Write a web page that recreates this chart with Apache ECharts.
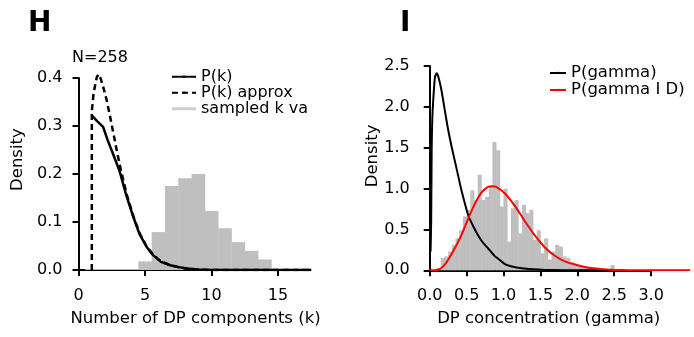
<!DOCTYPE html>
<html>
<head>
<meta charset="utf-8">
<script src="https://cdn.jsdelivr.net/npm/echarts@6/dist/echarts.min.js"></script>
<style>
  html, body { margin: 0; padding: 0; background: #fff; }
  #chart { width: 694px; height: 337px; }
</style>
</head>
<body>
<div id="chart"></div>
<script>
// Panel H: number of DP components
const kBinEdges = [0.5, 1.5, 2.5, 3.5, 4.5, 5.5, 6.5, 7.5, 8.5, 9.5, 10.5, 11.5, 12.5, 13.5, 14.5];
const kBinDensity = [0.002, 0.002, 0.002, 0.002, 0.018, 0.079, 0.175, 0.191, 0.200, 0.123, 0.087, 0.058, 0.040, 0.022];

const kSolid = [1, 1.4, 1.85, 2.2, 2.65, 3.1, 3.6, 4.1, 4.6, 5.1, 5.6, 6.2, 6.9, 7.5, 8.2, 9, 10, 17.5];
const pkSolid = [0.322, 0.31, 0.298, 0.27, 0.238, 0.205, 0.155, 0.112, 0.074, 0.049, 0.031, 0.017, 0.010, 0.006, 0.003, 0.001, 0, 0];

const kApprox = [1, 1, 1.12, 1.25, 1.38, 1.5, 1.65, 1.85, 2.1, 2.35, 2.6, 2.85, 3.1, 3.6, 4.1, 4.6, 5.1, 5.6, 6.2, 6.9, 8, 9, 10, 17.5];
const pkApprox = [0, 0.33, 0.365, 0.385, 0.402, 0.408, 0.4, 0.382, 0.356, 0.323, 0.288, 0.253, 0.219, 0.16, 0.114, 0.076, 0.05, 0.032, 0.018, 0.01, 0.003, 0.001, 0, 0];

// Panel I: DP concentration
const gBinEdges = [0.10, 0.15, 0.20, 0.25, 0.30, 0.35, 0.40, 0.45, 0.50, 0.55, 0.60, 0.65, 0.70, 0.75, 0.80, 0.85, 0.90, 0.95, 1.00,
  1.05, 1.10, 1.15, 1.20, 1.25, 1.30, 1.35, 1.40, 1.45, 1.50, 1.55, 1.60, 1.65, 1.70, 1.75, 1.80, 1.85, 1.90, 1.95, 2.00,
  2.05, 2.10, 2.15, 2.20, 2.25, 2.30, 2.35, 2.40, 2.45, 2.50, 2.55, 2.60];
const gBinDensity = [0.03, 0.15, 0.17, 0.23, 0.31, 0.39, 0.49, 0.66, 0.74, 0.98, 0.86, 1.17, 0.86, 0.90, 1.02, 1.57, 1.47, 0.78, 1.00,
  0.35, 0.76, 0.86, 0.45, 0.80, 0.70, 0.74, 0.37, 0.49, 0.21, 0.39, 0.13, 0.23, 0.31, 0.29, 0.17, 0.15, 0.10, 0.065, 0.065,
  0.045, 0.045, 0.035, 0.025, 0.015, 0.012, 0.012, 0.008, 0.065, 0.012, 0.008];

const gPrior = [0.012, 0.02, 0.027, 0.035, 0.049, 0.072, 0.095, 0.12, 0.16, 0.21, 0.25, 0.3, 0.35, 0.39, 0.43, 0.52, 0.6, 0.655, 0.72, 0.79, 0.885, 0.925, 1.02, 1.1, 1.25, 1.4, 1.56, 1.8, 2.2, 2.65];
const pPrior = [0.23, 0.6, 1.5, 1.85, 2.1, 2.37, 2.41, 2.36, 2.2, 1.93, 1.72, 1.5, 1.3, 1.14, 0.98, 0.68, 0.52, 0.43, 0.34, 0.27, 0.17, 0.145, 0.075, 0.05, 0.024, 0.012, 0.005, 0.002, 0.001, 0];

const gPost = [0, 0.1, 0.18, 0.25, 0.34, 0.43, 0.52, 0.61, 0.7, 0.79, 0.85, 0.9, 1.02, 1.16, 1.29, 1.43, 1.56, 1.7, 1.83, 1.97, 2.1, 2.22, 2.44, 2.7, 3.0, 3.53];
const pPost = [0, 0.003, 0.045, 0.13, 0.27, 0.43, 0.63, 0.81, 0.95, 1.02, 1.03, 1.02, 0.94, 0.78, 0.6, 0.42, 0.28, 0.175, 0.11, 0.07, 0.04, 0.024, 0.006, 0.001, 0, 0];

const font = 'DejaVu Sans';
const gray = '#bfbfbf';

function zip(xs, ys) {
  return xs.map((x, i) => [x, ys[i]]);
}

function binRows(edges, dens) {
  return dens.map((d, i) => [edges[i], edges[i + 1], d]);
}

function histRender(params, api) {
  const p0 = api.coord([api.value(0), api.value(2)]);
  const p1 = api.coord([api.value(1), 0]);
  return {
    type: 'rect',
    shape: { x: p0[0], y: p0[1], width: p1[0] - p0[0] + 0.4, height: p1[1] - p0[1] },
    style: { fill: api.visual('color') }
  };
}

// axis grids draw the R-style detached axes, data grids hold the marks
const axisBase = {
  axisLine: { show: true, lineStyle: { color: '#000', width: 2 } },
  axisTick: { show: true, length: 6, lineStyle: { color: '#000', width: 2 } },
  axisLabel: { color: '#000', fontSize: 16, fontFamily: font },
  splitLine: { show: false }
};
const hiddenAxis = {
  axisLine: { show: false },
  axisTick: { show: false },
  axisLabel: { show: false },
  splitLine: { show: false },
  nameLocation: 'middle',
  nameTextStyle: { color: '#000', fontSize: 16.5, fontFamily: font }
};
const oneDec = v => v.toFixed(1);

const chart = echarts.init(document.getElementById('chart'), null, { renderer: 'canvas' });

chart.setOption({
  animation: false,
  backgroundColor: '#fff',
  textStyle: { fontFamily: font, color: '#000' },
  title: [
    { text: 'H', left: 28, top: 10, padding: 0, textStyle: { fontSize: 28, fontWeight: 'bold', fontFamily: font, color: '#000' } },
    { text: 'I', left: 400, top: 10, padding: 0, textStyle: { fontSize: 28, fontWeight: 'bold', fontFamily: font, color: '#000' } },
    { text: 'N=258', left: 72, top: 50, padding: 0, textStyle: { fontSize: 16, fontWeight: 'normal', fontFamily: font, color: '#000' } }
  ],
  legend: [
    {
      orient: 'vertical', left: 171, top: 68.75, padding: 0, itemGap: 0,
      itemWidth: 24, itemHeight: 3,
      textStyle: { fontSize: 16, fontFamily: font, color: '#000', lineHeight: 14.5 },
      data: [
        { name: 'P(k)' },
        { name: 'P(k) approx' },
        { name: 'sampled k va', icon: 'rect', itemStyle: { color: '#cfcfcf' } }
      ]
    },
    {
      orient: 'vertical', left: 549, top: 64.5, padding: 0, itemGap: 0,
      itemWidth: 16, itemHeight: 3,
      textStyle: { fontSize: 16.5, fontFamily: font, color: '#000', lineHeight: 14.3 },
      data: [{ name: 'P(gamma)' }, { name: 'P(gamma I D)' }]
    }
  ],
  grid: [
    { left: 78.5, top: 78, width: 199.5, height: 192 },
    { left: 78.5, top: 49.2, width: 234.1, height: 220.8 },
    { left: 429.7, top: 66, width: 221.4, height: 204.3 },
    { left: 429.7, top: 41.5, width: 262, height: 228.8 }
  ],
  xAxis: [
    Object.assign({}, axisBase, { gridIndex: 0, type: 'value', min: 0, max: 15, interval: 5, offset: 9,
      axisLabel: Object.assign({}, axisBase.axisLabel, { margin: 9 }) }),
    Object.assign({}, hiddenAxis, { gridIndex: 1, type: 'value', min: 0, max: 17.6,
      name: 'Number of DP components (k)', nameGap: 40 }),
    Object.assign({}, axisBase, { gridIndex: 2, type: 'value', min: 0, max: 3, interval: 0.5, offset: 9,
      axisLabel: Object.assign({}, axisBase.axisLabel, { margin: 9, formatter: oneDec }) }),
    Object.assign({}, hiddenAxis, { gridIndex: 3, type: 'value', min: 0, max: 3.55,
      name: 'DP concentration (gamma)', nameGap: 40,
      nameTextStyle: Object.assign({}, hiddenAxis.nameTextStyle, { padding: [0, 24, 0, 0] }) })
  ],
  yAxis: [
    Object.assign({}, axisBase, { gridIndex: 0, type: 'value', min: 0, max: 0.4, interval: 0.1,
      axisLabel: Object.assign({}, axisBase.axisLabel, { margin: 16, formatter: oneDec }) }),
    Object.assign({}, hiddenAxis, { gridIndex: 1, type: 'value', min: 0, max: 0.46,
      name: 'Density', nameGap: 52 }),
    Object.assign({}, axisBase, { gridIndex: 2, type: 'value', min: 0, max: 2.5, interval: 0.5,
      axisLabel: Object.assign({}, axisBase.axisLabel, { margin: 20, formatter: oneDec }) }),
    Object.assign({}, hiddenAxis, { gridIndex: 3, type: 'value', min: 0, max: 2.8,
      name: 'Density', nameGap: 48 })
  ],
  series: [
    {
      name: 'sampled k va', type: 'custom', xAxisIndex: 1, yAxisIndex: 1,
      itemStyle: { color: gray }, renderItem: histRender,
      encode: { x: [0, 1], y: 2 }, data: binRows(kBinEdges, kBinDensity)
    },
    {
      name: 'P(k)', type: 'line', xAxisIndex: 1, yAxisIndex: 1, symbol: 'none',
      lineStyle: { color: '#000', width: 2.5 }, itemStyle: { color: '#000' },
      data: zip(kSolid, pkSolid)
    },
    {
      name: 'P(k) approx', type: 'line', xAxisIndex: 1, yAxisIndex: 1, symbol: 'none',
      lineStyle: { color: '#000', width: 2.5, type: [6, 4] }, itemStyle: { color: '#000' },
      data: zip(kApprox, pkApprox)
    },
    {
      name: 'gamma samples', type: 'custom', xAxisIndex: 3, yAxisIndex: 3,
      itemStyle: { color: gray }, renderItem: histRender,
      encode: { x: [0, 1], y: 2 }, data: binRows(gBinEdges, gBinDensity)
    },
    {
      name: 'P(gamma)', type: 'line', xAxisIndex: 3, yAxisIndex: 3, symbol: 'none', smooth: 0.2,
      lineStyle: { color: '#000', width: 2 }, itemStyle: { color: '#000' },
      data: zip(gPrior, pPrior)
    },
    {
      name: 'P(gamma I D)', type: 'line', xAxisIndex: 3, yAxisIndex: 3, symbol: 'none', smooth: 0.3,
      lineStyle: { color: '#ff0000', width: 2 }, itemStyle: { color: '#ff0000' },
      data: zip(gPost, pPost)
    }
  ]
});
</script>
</body>
</html>
